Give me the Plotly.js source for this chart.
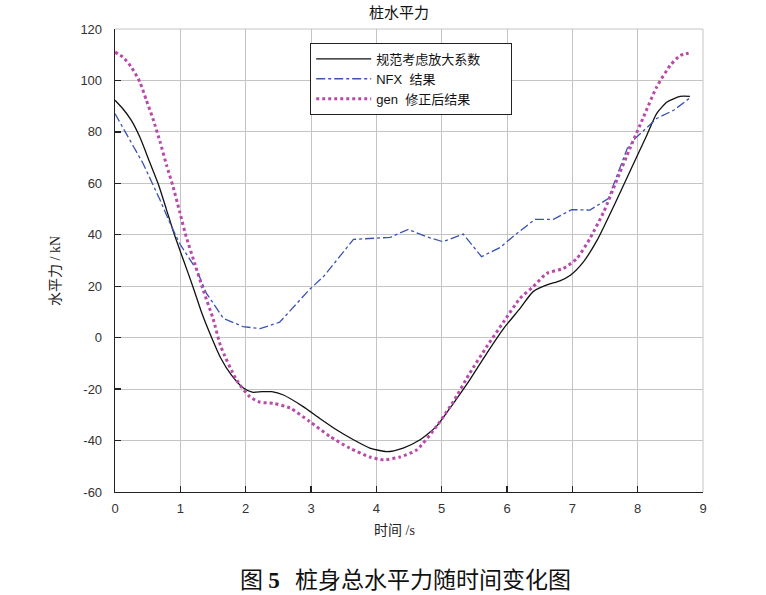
<!DOCTYPE html>
<html>
<head>
<meta charset="utf-8">
<script src="https://cdn.plot.ly/plotly-3.0.1.min.js"></script>
<style>html,body{margin:0;padding:0;background:#fff;}#chart{width:766px;height:595px;}</style>
</head>
<body>
<div id="chart"></div>
<script>
// ---- data ----
const seriesNames = ["规范考虑放大系数\u00a0\u00a0\u00a0\u00a0\u00a0\u00a0\u00a0", "NFX\u00a0\u00a0结果", "gen\u00a0\u00a0修正后结果"];

const tCode = [0, 0.12, 0.25, 0.38, 0.53, 0.66, 0.79, 0.91, 1.05, 1.19, 1.33, 1.48, 1.62, 1.78, 1.96, 2.10, 2.25, 2.40, 2.57, 2.88, 3.13, 3.39, 3.65, 3.90, 4.16, 4.41, 4.67, 4.92, 5.18, 5.43, 5.69, 5.95, 6.20, 6.40, 6.61, 6.81, 6.97, 7.17, 7.38, 7.63, 7.89, 8.14, 8.29, 8.45, 8.65, 8.80];
const vCode = [92.3, 89.0, 84.5, 78.0, 68.3, 59.9, 49.6, 40.0, 30.0, 20.0, 9.5, 0, -8, -14.5, -19.5, -21.2, -21.0, -21.0, -22.2, -26.8, -31.3, -35.8, -39.7, -42.9, -44.3, -42.9, -39.7, -34.5, -25.5, -16.4, -6.1, 3.6, 11.4, 17.9, 20.5, 22.1, 24.3, 29.5, 37.9, 50.9, 65.1, 78.7, 87.1, 91.6, 93.8, 93.8];

const tNFX = [0, 0.28, 0.43, 0.69, 0.86, 0.99, 1.25, 1.40, 1.66, 1.96, 2.22, 2.52, 2.98, 3.20, 3.65, 4.21, 4.49, 4.77, 5.02, 5.33, 5.61, 5.89, 6.15, 6.43, 6.71, 6.99, 7.27, 7.55, 7.68, 7.84, 7.96, 8.29, 8.55, 8.80];
const vNFX = [87.1, 74.8, 67.7, 53.5, 43.5, 36.6, 26.3, 17.2, 7.5, 4.3, 3.5, 6.0, 18.8, 24.0, 38.2, 39.0, 42.1, 39.2, 37.3, 40.3, 31.5, 35.0, 40.5, 46.0, 46.0, 49.8, 49.6, 54.1, 62.5, 73.5, 77.4, 85.2, 88.4, 93.2];

const tGen = [0, 0.12, 0.25, 0.38, 0.48, 0.58, 0.69, 0.79, 0.89, 0.99, 1.09, 1.22, 1.35, 1.50, 1.62, 1.86, 2.06, 2.22, 2.42, 2.68, 2.98, 3.29, 3.59, 3.90, 4.11, 4.36, 4.62, 4.92, 5.18, 5.43, 5.69, 5.95, 6.20, 6.40, 6.61, 6.86, 7.07, 7.27, 7.48, 7.68, 7.89, 8.09, 8.29, 8.50, 8.65, 8.78];
const vGen = [111.0, 109.1, 105.2, 99.4, 92.3, 85.2, 76.1, 67.0, 58.6, 48.9, 39.2, 28.9, 18.5, 7.5, -3.5, -16.4, -22.9, -25.1, -25.5, -27.4, -32.6, -38.4, -42.9, -46.4, -47.5, -46.4, -43.6, -34.5, -24.8, -13.8, -3.5, 6.2, 15.3, 19.8, 25.0, 26.9, 30.8, 38.6, 48.9, 61.2, 74.1, 85.8, 97.4, 105.9, 109.7, 110.6];

const xTicks = [0, 1, 2, 3, 4, 5, 6, 7, 8, 9];
const yTicks = [-60, -40, -20, 0, 20, 40, 60, 80, 100, 120];

const chartTitle = "桩水平力";
const xTitle = "时间 /s";
const yTitle = "水平力 / kN";
const caption = "图 <span style=\"font-family:Liberation Serif\"><b>5</b></span>\u00a0\u00a0\u00a0桩身总水平力随时间变化图";

// ---- drawing ----
const latin = "Liberation Sans, Arial, Noto Sans CJK SC, sans-serif";
const cjk = "Liberation Serif, Noto Sans CJK SC, serif";

const traces = [
  {x: tCode, y: vCode, name: seriesNames[0], mode: "lines",
   line: {color: "#111111", width: 1.3, shape: "spline", smoothing: 0.6}},
  {x: tNFX, y: vNFX, name: seriesNames[1], mode: "lines",
   line: {color: "#3a52b4", width: 1.3, dash: "dashdot"}},
  {x: tGen, y: vGen, name: seriesNames[2], mode: "lines",
   line: {color: "#b84aaa", width: 3, dash: "dot", shape: "spline", smoothing: 0.6}}
];

const axisCommon = {
  showgrid: true, gridcolor: "#c4c4c4", gridwidth: 1,
  zeroline: false, showline: true, linecolor: "#222", linewidth: 1.3,
  ticks: "inside", ticklen: 6, tickcolor: "#222", tickwidth: 1.3,
  tickfont: {family: latin, size: 13, color: "#333"}
};

const layout = {
  width: 766, height: 595,
  margin: {l: 115, r: 63, t: 29, b: 103},
  paper_bgcolor: "#fff", plot_bgcolor: "#fff",
  showlegend: true,
  legend: {
    x: 0.332, y: 0.97, xanchor: "left", yanchor: "top",
    bgcolor: "#fff", bordercolor: "#222", borderwidth: 1,
    font: {family: latin, size: 13, color: "#111"},
    itemwidth: 55,
    tracegroupgap: 0
  },
  xaxis: Object.assign({}, axisCommon, {range: [0, 9], tickvals: xTicks, ticktext: xTicks.map(String), ticklabelstandoff: 4}),
  yaxis: Object.assign({}, axisCommon, {range: [-60, 120], tickvals: yTicks, ticktext: yTicks.map(String), ticklabelstandoff: 9}),
  shapes: [
    {type: "line", xref: "paper", yref: "paper", x0: 0, x1: 1, y0: 1, y1: 1, line: {color: "#c4c4c4", width: 1}},
    {type: "line", xref: "paper", yref: "paper", x0: 1, x1: 1, y0: 0, y1: 1, line: {color: "#c4c4c4", width: 1}}
  ],
  annotations: [
    {text: chartTitle, xref: "paper", yref: "paper", x: (399 - 115) / 588, y: (492 - 13) / 463,
     xanchor: "center", yanchor: "middle", showarrow: false, font: {family: cjk, size: 15, color: "#111"}},
    {text: xTitle, xref: "paper", yref: "paper", x: (394 - 115) / 588, y: (492 - 530) / 463,
     xanchor: "center", yanchor: "middle", showarrow: false, font: {family: cjk, size: 14, color: "#222"}},
    {text: yTitle, xref: "paper", yref: "paper", x: (55 - 115) / 588, y: (492 - 271) / 463, textangle: -90,
     xanchor: "center", yanchor: "middle", showarrow: false, font: {family: cjk, size: 14, color: "#222"}},
    {text: caption, xref: "paper", yref: "paper", x: (405 - 115) / 588, y: (492 - 578) / 463,
     xanchor: "center", yanchor: "middle", showarrow: false, borderpad: 0,
     font: {family: "Noto Sans CJK SC, sans-serif", size: 23, color: "#111"}}
  ]
};

Plotly.newPlot("chart", traces, layout, {displayModeBar: false, staticPlot: true});
</script>
</body>
</html>
